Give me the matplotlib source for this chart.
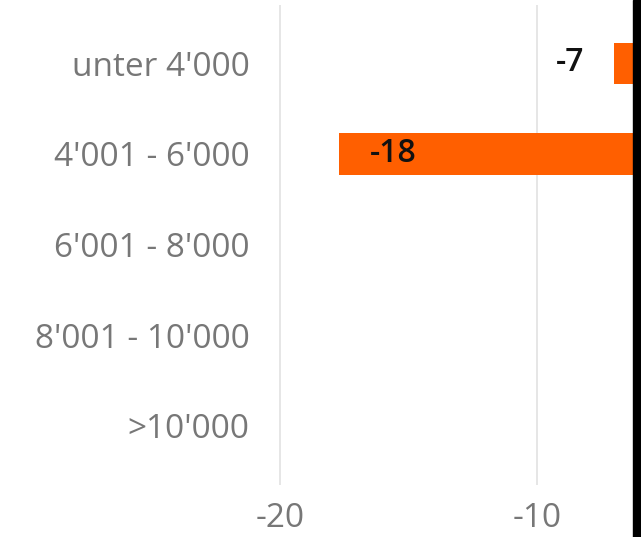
import matplotlib
matplotlib.use("Agg")
import matplotlib.pyplot as plt
from matplotlib.patches import Rectangle

categories = ["unter 4'000", "4'001 - 6'000", "6'001 - 8'000", "8'001 - 10'000", ">10'000"]
values = [-7, -17.7, None, None, None]
labels = ["-7", "-18", None, None, None]
xticks = [-20, -10]

W, H = 641, 537
fig = plt.figure(figsize=(W / 100, H / 100), dpi=100)
left_px, right_px = 262, 633
top_px, bot_px = 5, 485
ax = fig.add_axes([left_px / W, 1 - bot_px / H, (right_px - left_px) / W, (bot_px - top_px) / H])

orange = "#FF5F00"
ys = list(range(len(categories)))
for y, v in zip(ys, values):
    if v is not None:
        ax.barh(y, v, height=0.46, color=orange, zorder=2)

# data labels
lab_kw = dict(textcoords="offset points", va="center", fontsize=23, fontweight="semibold",
              family="Open Sans", color="#111111", zorder=3)
if labels[0]:
    ax.annotate(labels[0], (values[0], 0), xytext=(-21, 1), ha="right", **lab_kw)
if labels[1]:
    ax.annotate(labels[1], (values[1], 1), xytext=(22, 0), ha="left", **lab_kw)

ax.set_xlim(-20.71, -6.25)
ax.set_ylim(4.655, -0.645)
ax.set_yticks(ys)
ax.set_yticklabels(categories)
ax.set_xticks(xticks)
ax.set_xticklabels([str(t) for t in xticks])
for lab in ax.get_yticklabels() + ax.get_xticklabels():
    lab.set_family("Open Sans")
    lab.set_fontsize(24)
    lab.set_color("#777777")
ax.tick_params(axis="both", length=0)
ax.tick_params(axis="y", pad=9)
ax.tick_params(axis="x", pad=12)
ax.grid(axis="x", color="#E6E6E6", linewidth=1.4, zorder=0)
for s in ax.spines.values():
    s.set_visible(False)

fig.patches.append(Rectangle((633 / W, 0), 1 - 633 / W, 1, transform=fig.transFigure,
                             color="black", zorder=10))
fig.savefig("out.png", dpi=100)
